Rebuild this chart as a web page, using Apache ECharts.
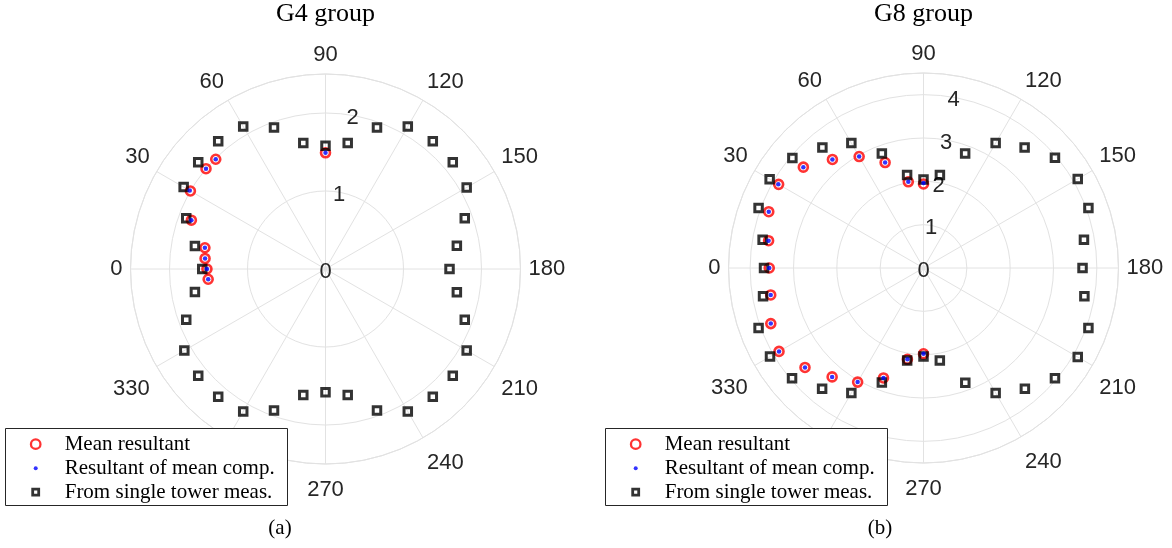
<!DOCTYPE html>
<html>
<head>
<meta charset="utf-8">
<script src="https://cdn.jsdelivr.net/npm/echarts@6/dist/echarts.min.js"></script>
<style>
  html, body { margin: 0; padding: 0; background: #fff; }
  #chart { width: 1172px; height: 548px; }
</style>
</head>
<body>
<div id="chart"></div>
<script>
// ---- data: angles in degrees, magnitudes in axis units ----
const towerAngles = [0, 10, 20, 30, 40, 50, 60, 70, 80, 90, 100, 110, 120, 130, 140, 150, 160, 170,
                     180, 190, 200, 210, 220, 230, 240, 250, 260, 270, 280, 290, 300, 310, 320, 330, 340, 350];

// G4 group
const g4TowerR = [1.58, 1.70, 1.90, 2.10, 2.13, 2.14, 2.11, 1.93, 1.64, 1.58, 1.64, 1.93, 2.11, 2.14, 2.13, 2.09, 1.90, 1.71,
                  1.59, 1.71, 1.90, 2.09, 2.13, 2.14, 2.11, 1.93, 1.64, 1.58, 1.64, 1.93, 2.11, 2.14, 2.13, 2.09, 1.90, 1.70];
const g4MeanAngles = [90, 45, 40, 30, 20, 10, 5, 0, 355];
const g4MeanR      = [1.49, 1.99, 2.00, 2.00, 1.83, 1.57, 1.55, 1.52, 1.51];
const g4CompAngles = [90, 45, 40, 30, 20, 10, 5, 0, 355];
const g4CompR      = [1.49, 1.99, 2.00, 2.01, 1.83, 1.57, 1.55, 1.52, 1.51];

// G8 group
const g8TowerR = [3.68, 3.77, 4.05, 4.10, 3.95, 3.63, 3.33, 2.81, 2.18, 2.04, 2.18, 2.81, 3.33, 3.63, 3.96, 4.11, 4.05, 3.76,
                  3.67, 3.77, 4.05, 4.11, 3.96, 3.64, 3.33, 2.82, 2.17, 2.04, 2.17, 2.81, 3.33, 3.64, 3.96, 4.09, 4.05, 3.76];
const g8MeanAngles = [90, 80, 70, 60, 50, 40, 30, 20, 10, 0, 350, 340, 330, 320, 310, 300, 290, 280, 270];
const g8MeanR      = [1.94, 2.02, 2.59, 2.97, 3.27, 3.62, 3.86, 3.80, 3.63, 3.56, 3.58, 3.75, 3.85, 3.57, 3.28, 3.04, 2.70, 2.14, 1.98];
const g8CompAngles = [90, 80, 70, 60, 50, 40, 30, 20, 10, 0, 350, 340, 330, 320, 310, 300, 290, 280, 270];
const g8CompR      = [1.96, 2.02, 2.59, 2.97, 3.27, 3.62, 3.87, 3.80, 3.63, 3.56, 3.58, 3.75, 3.85, 3.57, 3.28, 3.04, 2.70, 2.14, 1.98];

const panels = [
  { title: 'G4 group', tag: '(a)', rMax: 2.5, towerR: g4TowerR,
    meanA: g4MeanAngles, meanR: g4MeanR, compA: g4CompAngles, compR: g4CompR },
  { title: 'G8 group', tag: '(b)', rMax: 4.5, towerR: g8TowerR,
    meanA: g8MeanAngles, meanR: g8MeanR, compA: g8CompAngles, compR: g8CompR }
];

const NAMES = ['Mean resultant', 'Resultant of mean comp.', 'From single tower meas.'];

// ---- layout ----
const CENTERS = [[325.5, 269], [923.5, 268]];
const RADIUS = 195;
const RLABEL_DROP = 3;          // nudges the radial tick labels onto their rings
const LEGEND_X = [5, 605];
const GRID = '#e2e2e2';
const TICK_TEXT = '#262626';
const SANS = 'Liberation Sans, Arial, Helvetica, sans-serif';
const SERIF = 'Liberation Serif, Times New Roman, serif';

const zip = (r, a) => r.map((v, i) => [v, a[i]]);

const polar = [], angleAxis = [], radiusAxis = [], series = [], title = [], legend = [], graphic = [];

panels.forEach((p, k) => {
  const c = CENTERS[k];
  const main = 2 * k, lab = 2 * k + 1;

  // main polar: grid, angle labels and data
  polar.push({ center: c, radius: RADIUS });
  angleAxis.push({
    polarIndex: main, type: 'value', min: 0, max: 360, interval: 30,
    startAngle: 180, clockwise: true,
    axisLine: { show: true, lineStyle: { color: GRID, width: 1 } },
    axisTick: { show: false },
    splitLine: { show: true, lineStyle: { color: GRID, width: 1 } },
    axisLabel: { margin: 8, padding: [7, 0, 0, 0], color: TICK_TEXT, fontFamily: SANS, fontSize: 22 }
  });
  radiusAxis.push({
    polarIndex: main, type: 'value', min: 0, max: p.rMax, interval: 1,
    axisLine: { show: false }, axisTick: { show: false }, axisLabel: { show: false },
    splitLine: { show: true, lineStyle: { color: GRID, width: 1 } }
  });

  // companion polar: radial tick labels along the 80 degree direction
  polar.push({ center: [c[0], c[1] + RLABEL_DROP], radius: RADIUS });
  angleAxis.push({
    polarIndex: lab, type: 'value', min: 0, max: 360, startAngle: 80, clockwise: true, show: false
  });
  radiusAxis.push({
    polarIndex: lab, type: 'value', min: 0, max: p.rMax, interval: 1,
    axisLine: { show: false }, axisTick: { show: false }, splitLine: { show: false },
    axisLabel: {
      show: true, margin: 0, align: 'center', verticalAlign: 'middle',
      color: TICK_TEXT, fontFamily: SANS, fontSize: 22,
      formatter: v => (Math.abs(v - Math.round(v)) < 1e-9 ? String(Math.round(v)) : '')
    }
  });

  series.push({
    name: NAMES[0], type: 'scatter', coordinateSystem: 'polar', polarIndex: main,
    symbol: 'circle', symbolSize: 9, z: 2,
    itemStyle: { color: 'transparent', borderColor: '#ff0000', borderWidth: 2.6 },
    data: zip(p.meanR, p.meanA)
  });
  series.push({
    name: NAMES[2], type: 'scatter', coordinateSystem: 'polar', polarIndex: main,
    symbol: 'rect', symbolSize: 7.5, z: 3,
    itemStyle: { color: 'transparent', borderColor: '#000000', borderWidth: 3 },
    data: zip(p.towerR, towerAngles)
  });
  series.push({
    name: NAMES[1], type: 'scatter', coordinateSystem: 'polar', polarIndex: main,
    symbol: 'circle', symbolSize: 4.5, z: 4,
    itemStyle: { color: '#0000ff' },
    data: zip(p.compR, p.compA)
  });

  title.push({
    text: p.title, left: c[0], top: 14, textAlign: 'center', textVerticalAlign: 'middle', padding: 0,
    textStyle: { fontFamily: SERIF, fontSize: 26, fontWeight: 'normal', color: '#000' }
  });
  title.push({
    text: p.tag, left: k === 0 ? 280 : 880, top: 528, textAlign: 'center', textVerticalAlign: 'middle', padding: 0,
    textStyle: { fontFamily: SERIF, fontSize: 21, fontWeight: 'normal', color: '#000' }
  });

  // legend frame
  const lx = LEGEND_X[k];
  graphic.push({
    type: 'rect', z: 3, silent: true,
    shape: { x: lx + 0.5, y: 428.5, width: 282, height: 77 },
    style: { fill: '#ffffff', stroke: '#262626', lineWidth: 1 }
  });

  // legend rows, one per marker so each keeps its own size
  const rows = [
    { name: NAMES[0], h: 9.5, sw: 2.3, icon: 'circle',
      style: { color: 'transparent', borderColor: '#ff0000', borderWidth: 2.3 } },
    { name: NAMES[1], h: 4, sw: 0, icon: 'circle',
      style: { color: '#0000ff', borderWidth: 0 } },
    { name: NAMES[2], h: 6, sw: 2.8, icon: 'path://M0,0H10V10H0Z',
      style: { color: 'transparent', borderColor: '#000000', borderWidth: 2.8 } }
  ];
  const rowCenters = [442.7, 466.7, 490.7];
  rows.forEach((r, i) => {
    legend.push({
      orient: 'vertical', left: lx + 30.7 - (r.h + r.sw) / 2, top: rowCenters[i] - 9, padding: 0, z: 5,
      itemWidth: 48, itemHeight: r.h, symbolKeepAspect: true, selectedMode: false,
      textStyle: { fontFamily: SERIF, fontSize: 21, color: '#000' },
      data: [{ name: r.name, icon: r.icon, itemStyle: r.style }]
    });
  });
});

const chart = echarts.init(document.getElementById('chart'), null, { renderer: 'canvas' });
chart.setOption({
  animation: false,
  backgroundColor: '#ffffff',
  title, legend, polar, angleAxis, radiusAxis, series, graphic
});
</script>
</body>
</html>
